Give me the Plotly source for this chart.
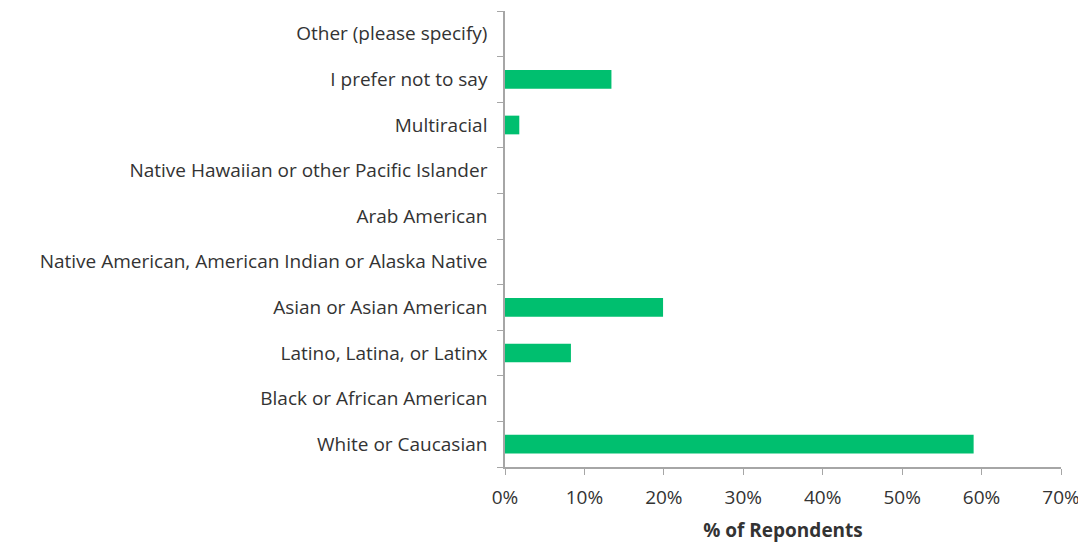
import plotly.graph_objects as go

# Categories listed bottom to top
categories = [
    "White or Caucasian",
    "Black or African American",
    "Latino, Latina, or Latinx",
    "Asian or Asian American",
    "Native American, American Indian or Alaska Native",
    "Arab American",
    "Native Hawaiian or other Pacific Islander",
    "Multiracial",
    "I prefer not to say",
    "Other (please specify)",
]
percent = [0.590, 0.0, 0.083, 0.199, 0.0, 0.0, 0.0, 0.018, 0.134, 0.0]

x_ticks = [0, 0.1, 0.2, 0.3, 0.4, 0.5, 0.6, 0.7]

fig = go.Figure()
fig.add_trace(go.Bar(
    y=categories, x=percent, orientation="h",
    marker=dict(color="#00BF6F", line=dict(width=0)),
    width=0.41,
))

# page body has an 8px default margin, so offsets are trimmed accordingly
fig.update_layout(
    width=1086, height=545,
    margin=dict(l=497, r=33, t=3, b=86),
    plot_bgcolor="white", paper_bgcolor="white",
    font=dict(family="Open Sans", size=19, color="#333333"),
    showlegend=False,
)
fig.update_xaxes(
    range=[0, 0.7], tickvals=x_ticks, tickformat=".0%",
    showgrid=False, zeroline=False,
    showline=True, linecolor="#A6A6A6", linewidth=1.5,
    ticks="outside", ticklen=6, tickcolor="#A6A6A6",
    ticklabelstandoff=6,
    title=dict(text="<b>% of Repondents</b>", font=dict(size=19, color="#333333"), standoff=15),
)
fig.update_yaxes(
    showgrid=False, zeroline=False,
    showline=True, linecolor="#A6A6A6", linewidth=1.5,
    ticks="outside", ticklen=6, tickcolor="#A6A6A6", tickson="boundaries",
    ticklabelstandoff=12,
)

fig.write_html("out.html")
